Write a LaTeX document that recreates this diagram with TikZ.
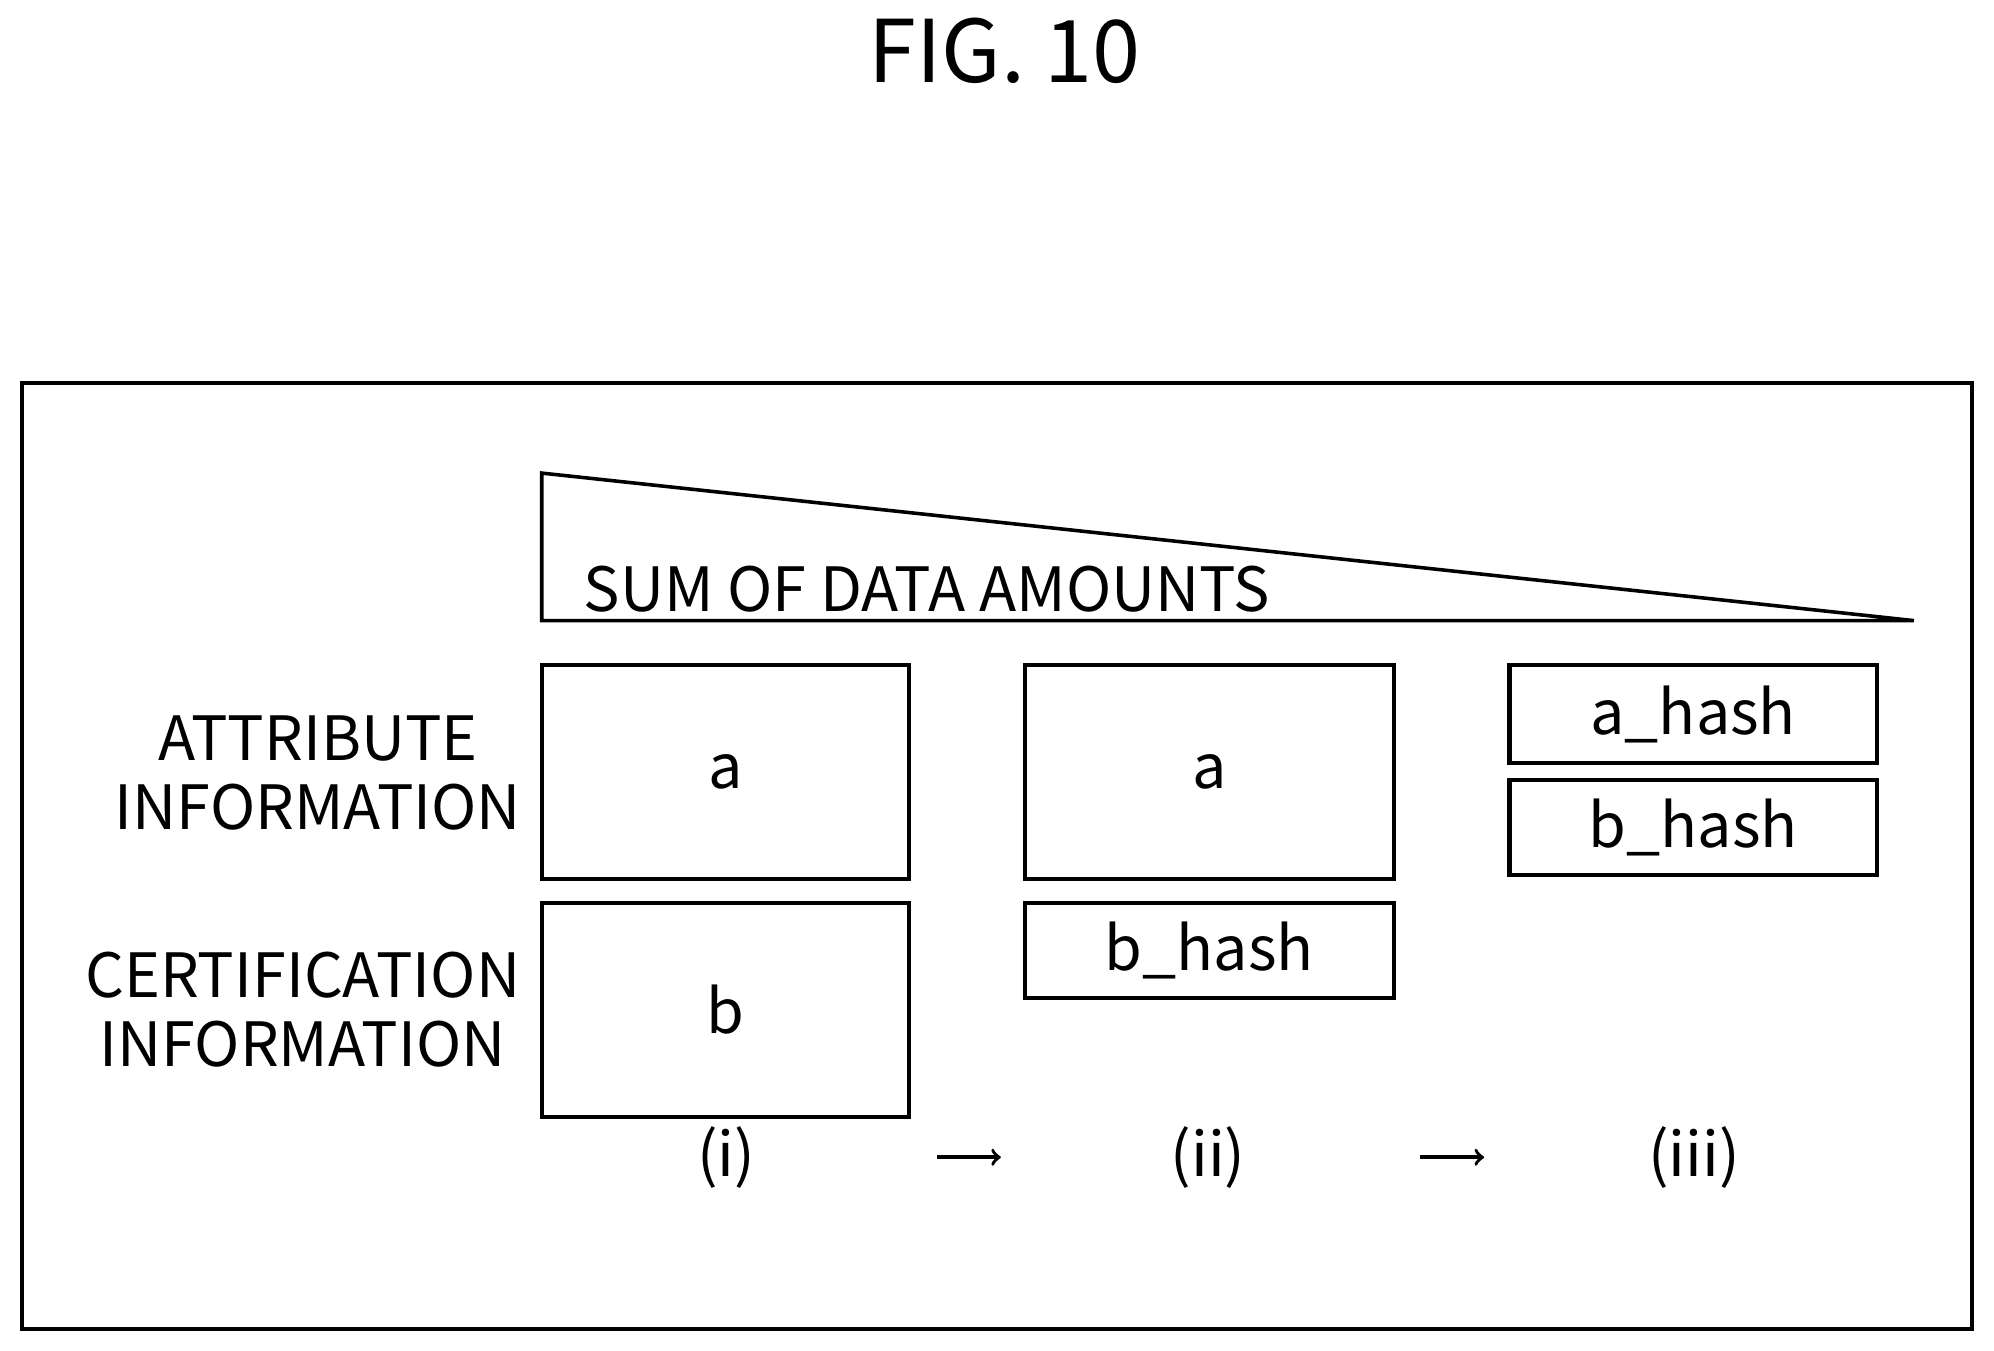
\documentclass[tikz,border=0pt]{standalone}
\usepackage{fontspec}
\setmainfont{Noto Sans CJK JP}
\begin{document}
\begin{tikzpicture}[x=0.5pt,y=-0.5pt,
  box/.style={draw,line width=1.6pt},
  lbl/.style={font=\fontsize{24}{26}\selectfont},
  sidelbl/.style={font=\fontsize{24}{27}\selectfont,align=center}]
\useasboundingbox (0,0) rectangle (1568,1062);
\node[font=\fontsize{34}{36}\selectfont] (title) at (790,40) {FIG. 10};
\draw[line width=1.6pt] (17,301) rectangle (1551,1045);
\draw[line width=1.4pt] (426,372) -- (426,488) -- (1505,488) -- cycle;
\node[lbl,anchor=base west] (sum) at (452,481) {SUM OF DATA AMOUNTS};
\draw[box] (426,523) rectangle (715,691) node[midway,lbl] (a1) {a};
\draw[box] (426,710) rectangle (715,878) node[midway,lbl] (b1) {b};
\draw[box] (806,523) rectangle (1096,691) node[midway,lbl] (a2) {a};
\draw[box] (806,710) rectangle (1096,785) node[midway,lbl] (b2) {b\_hash};
\draw[box] (1187,523) rectangle (1476,600) node[midway,lbl] (a3) {a\_hash};
\draw[box] (1187,613) rectangle (1476,688) node[midway,lbl] (b3) {b\_hash};
\node[sidelbl] (attr) at (250,608) {ATTRIBUTE\\INFORMATION};
\node[sidelbl] (cert) at (238,794) {CERTIFICATION\\INFORMATION};
\node[lbl] (i) at (571,910) {(i)};
\node[lbl] (ii) at (950,910) {(ii)};
\node[lbl] (iii) at (1332,910) {(iii)};
\coordinate (p1) at (737,910); \coordinate (p2) at (787,910);
\coordinate (q1) at (1117,910); \coordinate (q2) at (1167,910);
\draw[->,line width=1.4pt] (p1) -- (p2);
\draw[->,line width=1.4pt] (q1) -- (q2);
\end{tikzpicture}
\end{document}
